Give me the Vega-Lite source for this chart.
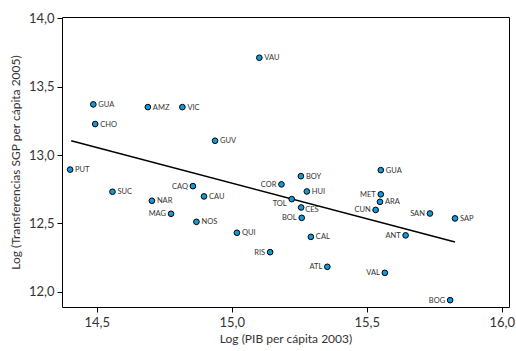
{
  "$schema": "https://vega.github.io/schema/vega-lite/v6.json",
  "width": 447,
  "height": 290,
  "autosize": {"type": "none"},
  "padding": {"left": 62, "top": 17, "right": 7, "bottom": 44},
  "background": "white",
  "datasets": {
    "pts": [
      {"dep": "GUA", "pib": 14.487, "sgp": 13.371},
      {"dep": "AMZ", "pib": 14.689, "sgp": 13.351},
      {"dep": "VIC", "pib": 14.817, "sgp": 13.351},
      {"dep": "CHO", "pib": 14.494, "sgp": 13.227},
      {"dep": "GUV", "pib": 14.938, "sgp": 13.105},
      {"dep": "PUT", "pib": 14.401, "sgp": 12.894},
      {"dep": "CAQ", "pib": 14.856, "sgp": 12.773},
      {"dep": "SUC", "pib": 14.558, "sgp": 12.732},
      {"dep": "CAU", "pib": 14.897, "sgp": 12.698},
      {"dep": "NAR", "pib": 14.704, "sgp": 12.666},
      {"dep": "MAG", "pib": 14.775, "sgp": 12.571},
      {"dep": "NOS", "pib": 14.869, "sgp": 12.512},
      {"dep": "QUI", "pib": 15.019, "sgp": 12.432},
      {"dep": "COR", "pib": 15.184, "sgp": 12.786},
      {"dep": "BOY", "pib": 15.256, "sgp": 12.846},
      {"dep": "HUI", "pib": 15.278, "sgp": 12.734},
      {"dep": "TOL", "pib": 15.222, "sgp": 12.678},
      {"dep": "CES", "pib": 15.257, "sgp": 12.617},
      {"dep": "BOL", "pib": 15.259, "sgp": 12.541},
      {"dep": "CAL", "pib": 15.293, "sgp": 12.402},
      {"dep": "RIS", "pib": 15.142, "sgp": 12.290},
      {"dep": "ATL", "pib": 15.354, "sgp": 12.183},
      {"dep": "CUN", "pib": 15.533, "sgp": 12.599},
      {"dep": "GUA ", "pib": 15.552, "sgp": 12.890},
      {"dep": "MET", "pib": 15.552, "sgp": 12.713},
      {"dep": "ARA", "pib": 15.549, "sgp": 12.658},
      {"dep": "SAN", "pib": 15.734, "sgp": 12.573},
      {"dep": "SAP", "pib": 15.827, "sgp": 12.537},
      {"dep": "ANT", "pib": 15.644, "sgp": 12.413},
      {"dep": "VAL", "pib": 15.567, "sgp": 12.139},
      {"dep": "BOG", "pib": 15.809, "sgp": 11.939},
      {"dep": "VAU", "pib": 15.102, "sgp": 13.712}
    ],
    "fit": [
      {"pib": 14.405, "sgp": 13.105},
      {"pib": 15.827, "sgp": 12.364}
    ]
  },
  "layer": [
    {
      "data": {"name": "fit"},
      "mark": {"type": "line", "color": "black", "strokeWidth": 1.5},
      "encoding": {
        "x": {"field": "pib", "type": "quantitative"},
        "y": {"field": "sgp", "type": "quantitative"}
      }
    },
    {
      "data": {"name": "pts"},
      "mark": {"type": "point", "filled": true, "fill": "#1598d8", "stroke": "black", "strokeWidth": 1, "size": 32, "opacity": 1},
      "encoding": {
        "x": {"field": "pib", "type": "quantitative"},
        "y": {"field": "sgp", "type": "quantitative"}
      }
    },
    {
      "data": {"name": "pts"},
      "transform": [{"filter": {"not": {"field": "dep", "oneOf": ["CAQ", "MAG", "COR", "TOL", "BOL", "RIS", "ATL", "MET", "CUN", "SAN", "ANT", "VAL", "BOG", "CES"]}}}],
      "mark": {"type": "text", "align": "left", "baseline": "middle", "dx": 5, "dy": 0.5, "fontSize": 7.5, "font": "Lato", "color": "#333333"},
      "encoding": {
        "x": {"field": "pib", "type": "quantitative"},
        "y": {"field": "sgp", "type": "quantitative"},
        "text": {"field": "dep"}
      }
    },
    {
      "data": {"name": "pts"},
      "transform": [{"filter": {"field": "dep", "oneOf": ["CES"]}}],
      "mark": {"type": "text", "align": "left", "baseline": "middle", "dx": 4, "dy": 3, "fontSize": 7.5, "font": "Lato", "color": "#333333"},
      "encoding": {
        "x": {"field": "pib", "type": "quantitative"},
        "y": {"field": "sgp", "type": "quantitative"},
        "text": {"field": "dep"}
      }
    },
    {
      "data": {"name": "pts"},
      "transform": [{"filter": {"field": "dep", "oneOf": ["CAQ", "MAG", "COR", "BOL", "RIS", "ATL", "MET", "CUN", "SAN", "ANT", "VAL", "BOG"]}}],
      "mark": {"type": "text", "align": "right", "baseline": "middle", "dx": -5, "dy": 0.5, "fontSize": 7.5, "font": "Lato", "color": "#333333"},
      "encoding": {
        "x": {"field": "pib", "type": "quantitative"},
        "y": {"field": "sgp", "type": "quantitative"},
        "text": {"field": "dep"}
      }
    },
    {
      "data": {"name": "pts"},
      "transform": [{"filter": {"field": "dep", "oneOf": ["TOL"]}}],
      "mark": {"type": "text", "align": "right", "baseline": "middle", "dx": -5, "dy": 4.5, "fontSize": 7.5, "font": "Lato", "color": "#333333"},
      "encoding": {
        "x": {"field": "pib", "type": "quantitative"},
        "y": {"field": "sgp", "type": "quantitative"},
        "text": {"field": "dep"}
      }
    }
  ],
  "encoding": {
    "x": {
      "field": "pib", "type": "quantitative",
      "scale": {"domain": [14.371, 16.027], "nice": false, "zero": false},
      "axis": {"values": [14.5, 15.0, 15.5, 16.0], "title": "Log (PIB per cápita 2003)", "labelExpr": "replace(format(datum.value, '.1f'), '.', ',')", "grid": false}
    },
    "y": {
      "field": "sgp", "type": "quantitative",
      "scale": {"domain": [11.889, 14.01], "nice": false, "zero": false},
      "axis": {"values": [12.0, 12.5, 13.0, 13.5, 14.0], "title": "Log (Transferencias SGP per cápita 2005)", "labelExpr": "replace(format(datum.value, '.1f'), '.', ',')", "grid": false}
    }
  },
  "config": {
    "view": {"stroke": "black", "strokeWidth": 1},
    "axis": {
      "domain": false,
      "tickColor": "black",
      "tickSize": 5,
      "labelFont": "Lato",
      "labelFontSize": 13,
      "labelColor": "#333333",
      "titleFont": "Lato",
      "titleFontSize": 12,
      "titleFontWeight": "normal",
      "titleColor": "#333333"
    },
    "axisX": {"labelPadding": 4, "titlePadding": 4},
    "axisY": {"labelPadding": 3, "titlePadding": 6}
  }
}
